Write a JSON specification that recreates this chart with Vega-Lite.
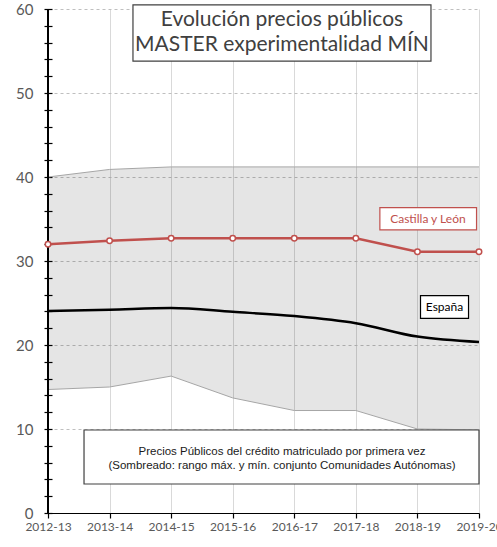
{
  "$schema": "https://vega.github.io/schema/vega-lite/v6.json",
  "width": 431,
  "height": 504,
  "autosize": {"type": "none"},
  "padding": {"left": 48, "top": 9, "right": 18, "bottom": 34},
  "background": "white",
  "config": {"view": {"stroke": null}},
  "datasets": {
    "series": [
      {"year": 2012, "curso": "2012-13", "max": 40.0, "min": 14.7, "cyl": 32.0, "esp": 24.05},
      {"year": 2013, "curso": "2013-14", "max": 40.9, "min": 15.0, "cyl": 32.4, "esp": 24.2},
      {"year": 2014, "curso": "2014-15", "max": 41.2, "min": 16.3, "cyl": 32.7, "esp": 24.4},
      {"year": 2015, "curso": "2015-16", "max": 41.2, "min": 13.7, "cyl": 32.7, "esp": 23.95},
      {"year": 2016, "curso": "2016-17", "max": 41.2, "min": 12.2, "cyl": 32.7, "esp": 23.45},
      {"year": 2017, "curso": "2017-18", "max": 41.2, "min": 12.2, "cyl": 32.7, "esp": 22.6},
      {"year": 2018, "curso": "2018-19", "max": 41.2, "min": 10.0, "cyl": 31.1, "esp": 21.0},
      {"year": 2019, "curso": "2019-20", "max": 41.2, "min": 9.9, "cyl": 31.1, "esp": 20.35}
    ],
    "boxes": [
      {"box": "title", "x1": 2013.38, "x2": 2018.22, "y1": 60.5, "y2": 53.8, "stroke": "#404040"},
      {"box": "nota", "x1": 2012.585, "x2": 2019.0, "y1": 9.88, "y2": 3.45, "stroke": "#404040"},
      {"box": "cyl", "x1": 2017.39, "x2": 2018.96, "y1": 36.35, "y2": 33.7, "stroke": "#c0504d"},
      {"box": "esp", "x1": 2018.05, "x2": 2018.83, "y1": 25.87, "y2": 23.18, "stroke": "#000000"}
    ],
    "titles": [
      {"x": 2015.8, "y": 58.7, "t": "Evolución precios públicos"},
      {"x": 2015.8, "y": 55.7, "t": "MASTER experimentalidad MÍN"}
    ],
    "notas": [
      {"x": 2015.8, "y": 7.3, "t": "Precios Públicos del crédito matriculado por primera vez"},
      {"x": 2015.8, "y": 5.6, "t": "(Sombreado: rango máx. y mín. conjunto Comunidades Autónomas)"}
    ],
    "labels": [
      {"x": 2018.17, "y": 35.0, "t": "Castilla y León", "c": "#c0504d"},
      {"x": 2018.44, "y": 24.5, "t": "España", "c": "#000000"}
    ]
  },
  "layer": [
    {
      "data": {"name": "series"},
      "mark": {"type": "area", "fill": "#000000", "fillOpacity": 0.1},
      "encoding": {
        "x": {
          "field": "year", "type": "quantitative", "title": null,
          "scale": {"domain": [2012, 2019], "nice": false, "zero": false},
          "axis": {
            "values": [2012, 2013, 2014, 2015, 2016, 2017, 2018, 2019],
            "tickCount": 20,
            "labelExpr": "datum.value + '-' + substring(toString(datum.value + 1), 2)",
            "grid": true, "gridColor": "#d9d9d9", "gridWidth": 1,
            "domainColor": "#000000", "domainWidth": 1.2,
            "tickColor": "#000000", "tickSize": 5, "tickWidth": 1.2,
            "labelFont": "Lato", "labelFontSize": 12, "labelColor": "#595959",
            "labelPadding": 3, "labelFlush": false, "labelOverlap": false
          }
        },
        "y": {
          "field": "max", "type": "quantitative", "title": null,
          "scale": {"domain": [0, 60], "nice": false},
          "axis": {
            "values": [0,2,4,6,8,10,12,14,16,18,20,22,24,26,28,30,32,34,36,38,40,42,44,46,48,50,52,54,56,58,60],
            "tickCount": 100,
            "format": "d",
            "labelExpr": "datum.value % 10 === 0 ? datum.label : ''",
            "labelOverlap": false,
            "grid": true, "gridColor": "#bfbfbf", "gridDash": [3, 3],
            "gridOpacity": {"condition": {"test": "datum.value % 10 === 0 && datum.value > 0", "value": 1}, "value": 0},
            "domain": false, "offset": -4,
            "tickColor": "#000000", "tickSize": 8, "tickWidth": 1.2,
            "labelFont": "Lato", "labelFontSize": 15, "labelColor": "#595959",
            "labelPadding": 11
          }
        },
        "y2": {"field": "min"}
      }
    },
    {
      "data": {"name": "series"},
      "mark": {"type": "line", "color": "#a6a6a6", "strokeWidth": 1},
      "encoding": {
        "x": {"field": "year", "type": "quantitative", "title": null},
        "y": {"field": "max", "type": "quantitative", "title": null}
      }
    },
    {
      "data": {"name": "series"},
      "mark": {"type": "line", "color": "#a6a6a6", "strokeWidth": 1},
      "encoding": {
        "x": {"field": "year", "type": "quantitative", "title": null},
        "y": {"field": "min", "type": "quantitative", "title": null}
      }
    },
    {
      "data": {"name": "series"},
      "mark": {"type": "rule", "color": "#000000", "strokeWidth": 1.2},
      "encoding": {
        "x": {"datum": 2012, "type": "quantitative"},
        "y": {"datum": 0, "type": "quantitative"},
        "y2": {"datum": 60}
      }
    },
    {
      "data": {"name": "series"},
      "mark": {"type": "line", "color": "#000000", "strokeWidth": 2.5, "interpolate": "monotone"},
      "encoding": {
        "x": {"field": "year", "type": "quantitative", "title": null},
        "y": {"field": "esp", "type": "quantitative", "title": null}
      }
    },
    {
      "data": {"name": "series"},
      "mark": {"type": "line", "color": "#c0504d", "strokeWidth": 2.5,
               "point": {"filled": true, "fill": "white", "stroke": "#c0504d", "strokeWidth": 1.5, "size": 30}},
      "encoding": {
        "x": {"field": "year", "type": "quantitative", "title": null},
        "y": {"field": "cyl", "type": "quantitative", "title": null}
      }
    },
    {
      "data": {"name": "boxes"},
      "mark": {"type": "rect", "fill": "white", "strokeWidth": 1.2},
      "encoding": {
        "x": {"field": "x1", "type": "quantitative", "title": null},
        "x2": {"field": "x2"},
        "y": {"field": "y1", "type": "quantitative", "title": null},
        "y2": {"field": "y2"},
        "stroke": {"field": "stroke", "type": "nominal", "scale": null}
      }
    },
    {
      "data": {"name": "titles"},
      "mark": {"type": "text", "font": "Lato", "fontSize": 21, "color": "#404040", "align": "center", "baseline": "middle"},
      "encoding": {
        "x": {"field": "x", "type": "quantitative", "title": null},
        "y": {"field": "y", "type": "quantitative", "title": null},
        "text": {"field": "t"}
      }
    },
    {
      "data": {"name": "notas"},
      "mark": {"type": "text", "font": "Liberation Sans", "fontSize": 11.5, "color": "#1a1a1a", "align": "center", "baseline": "middle"},
      "encoding": {
        "x": {"field": "x", "type": "quantitative", "title": null},
        "y": {"field": "y", "type": "quantitative", "title": null},
        "text": {"field": "t"}
      }
    },
    {
      "data": {"name": "labels"},
      "mark": {"type": "text", "font": "Lato", "fontSize": 12, "align": "center", "baseline": "middle"},
      "encoding": {
        "x": {"field": "x", "type": "quantitative", "title": null},
        "y": {"field": "y", "type": "quantitative", "title": null},
        "text": {"field": "t"},
        "color": {"field": "c", "type": "nominal", "scale": null}
      }
    }
  ]
}
